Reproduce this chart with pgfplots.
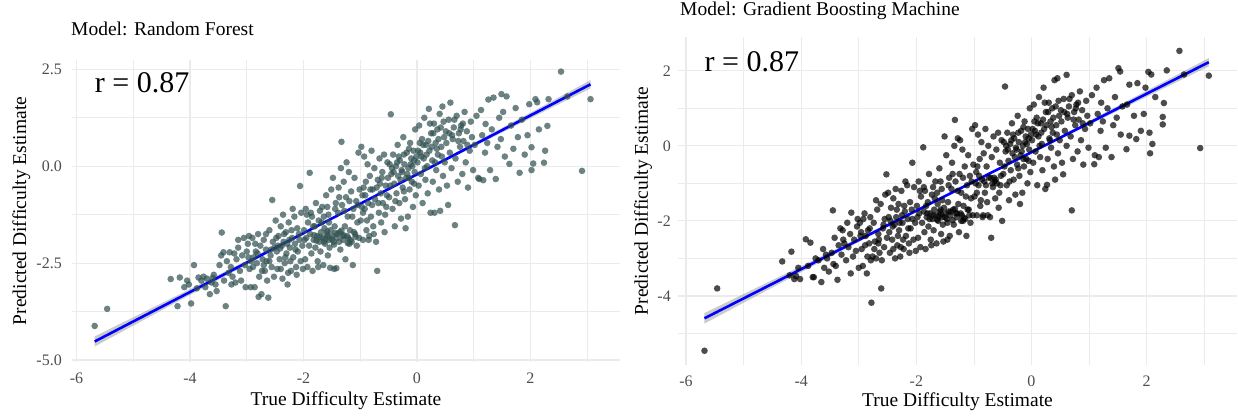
\documentclass[border=0pt]{standalone}
\usepackage{pgfplots}
\pgfplotsset{compat=1.18}
\usepackage{fontspec}
\setmainfont{Liberation Serif}

\definecolor{gridc}{HTML}{EBEBEB}
\definecolor{tickc}{HTML}{4D4D4D}
\definecolor{rfpt}{HTML}{2F4F4F}

\newcommand{\labfont}{\fontsize{19.5}{22}\selectfont}

\pgfplotsset{
  panel/.style={
    scale only axis,
    axis line style={draw=none},
    tick style={draw=none},
    major tick length=0pt,
    minor tick length=0pt,
    grid=both,
    major grid style={gridc, line width=1.2pt},
    minor grid style={gridc, line width=0.6pt},
    ticklabel style={font=\fontsize{16}{16}\selectfont, text=tickc, inner sep=0pt},
  },
  pts/.style={only marks, mark=*, mark size=3.3pt,
    mark options={fill=#1, fill opacity=0.7, draw opacity=0}},
  band/.style={draw=none, fill=black!45, fill opacity=0.45},
  fit/.style={draw=blue, line width=2.6pt},
}

\begin{document}
\begin{tikzpicture}
\path[use as bounding box] (0,0) rectangle (1238pt,416pt);

% ---- Random Forest ----
\begin{axis}[panel,
  at={(72pt,54pt)}, anchor=south west,
  width=548pt, height=302pt,
  xmin=-6.08, xmax=3.58, ymin=-5.05, ymax=2.74,
  xtick={-6,-4,-2,0,2}, xticklabels={-6,-4,-2,0,2},
  ytick={-5,-2.5,0,2.5}, yticklabels={-5.0,-2.5,0.0,2.5},
  minor xtick={-5,-3,-1,1,3}, minor ytick={-3.75,-1.25,1.25},
  xticklabel style={anchor=north, yshift=-11pt},
  yticklabel style={anchor=east, xshift=-10pt},
  xlabel={True Difficulty Estimate},
  ylabel={Predicted Difficulty Estimate},
  xlabel style={at={(axis description cs:0.5,-0.1424)}, anchor=base, font=\labfont},
  ylabel style={at={(axis description cs:-0.0839,0.5)}, anchor=base, font=\labfont},
  title={Model: Random Forest},
  title style={at={(axis description cs:0,1)}, anchor=base west, inner sep=0pt, xshift=-1pt, yshift=18pt, font=\labfont},
]
\addplot[pts=rfpt] coordinates {
(-5.68,-4.12) (-5.46,-3.68)
(-4.34,-2.91) (-4.18,-2.87) (-4.22,-3.61) (-4.10,-3.12) (-4.02,-3.05) (-3.98,-3.54) (-4.05,-2.95)
(-3.93,-2.55) (-3.85,-2.87) (-3.80,-2.95) (-3.73,-3.12) (-3.70,-2.90) (-3.65,-3.30) (-3.60,-2.88)
(-3.55,-3.05) (-3.53,-3.22) (-3.58,-2.80) (-3.88,-3.15) (-3.76,-2.85) (-3.62,-3.00)
(-3.44,-1.71) (-3.41,-2.22) (-3.37,-3.61) (-3.35,-2.45) (-3.30,-2.22) (-3.28,-2.60) (-3.25,-2.85)
(-3.22,-2.25) (-3.20,-3.00) (-3.18,-2.40) (-3.15,-2.10) (-3.12,-2.70) (-3.10,-2.95) (-3.08,-2.30)
(-3.05,-1.85) (-3.03,-2.55) (-3.40,-2.95) (-3.45,-2.30) (-3.32,-2.75) (-3.15,-1.90) (-3.00,-2.20)
(-3.02,-3.12) (-3.27,-3.05) (-3.48,-2.55)
(-2.98,-2.00) (-2.95,-2.65) (-2.93,-3.12) (-2.90,-1.85) (-2.88,-2.35) (-2.86,-3.12) (-2.84,-2.20)
(-2.82,-2.50) (-2.80,-1.75) (-2.78,-2.85) (-2.76,-2.05) (-2.74,-3.30) (-2.72,-2.40) (-2.70,-1.90)
(-2.68,-2.70) (-2.66,-2.15) (-2.64,-2.95) (-2.62,-3.39) (-2.60,-1.65) (-2.58,-2.30) (-2.56,-2.60)
(-2.55,-0.87) (-2.54,-1.95) (-2.52,-2.85) (-2.51,-2.10) (-2.79,-3.37) (-2.96,-1.80) (-2.70,-2.55)
(-2.85,-2.00) (-2.60,-2.45) (-2.92,-2.45) (-2.66,-1.75)
(-2.49,-1.40) (-2.47,-2.20) (-2.46,-2.65) (-2.44,-1.80) (-2.42,-2.40) (-2.40,-1.55) (-2.38,-2.05)
(-2.37,-2.90) (-2.35,-1.95) (-2.33,-2.50) (-2.31,-1.70) (-2.30,-2.25) (-2.28,-3.05) (-2.26,-1.45)
(-2.24,-2.10) (-2.22,-2.70) (-2.20,-1.85) (-2.18,-2.35) (-2.16,-1.30) (-2.15,-2.00) (-2.13,-2.60)
(-2.11,-1.60) (-2.10,-2.20) (-2.08,-1.75) (-2.06,-0.51) (-2.05,-2.45) (-2.04,-1.20) (-2.02,-2.05)
(-2.01,-2.65) (-2.45,-2.05) (-2.36,-1.25) (-2.27,-2.75) (-2.19,-1.10) (-2.12,-2.80) (-2.40,-2.65)
(-2.25,-1.90)
(-1.99,-1.65) (-1.97,-2.40) (-1.96,-1.10) (-1.95,-1.85) (-1.93,-2.60) (-1.92,-1.45) (-1.90,-2.05)
(-1.89,-0.17) (-1.88,-1.75) (-1.86,-2.25) (-1.85,-1.30) (-1.84,-2.70) (-1.82,-1.90) (-1.80,-1.55)
(-1.79,-2.10) (-1.78,-0.95) (-1.76,-1.80) (-1.75,-2.45) (-1.73,-1.40) (-1.72,-1.95) (-1.70,-2.20)
(-1.69,-1.70) (-1.67,-1.05) (-1.66,-1.85) (-1.65,-2.55) (-1.63,-1.60) (-1.62,-2.00) (-1.60,-0.75)
(-1.59,-1.75) (-1.57,-2.30) (-1.56,-1.25) (-1.55,-1.90) (-1.53,-2.62) (-1.52,-1.65) (-1.51,-0.60)
(-1.98,-1.90) (-1.87,-1.20) (-1.74,-2.60) (-1.68,-1.45) (-1.61,-1.88) (-1.58,-1.05) (-1.54,-2.10)
(-1.49,-1.80) (-1.48,-0.30) (-1.46,-2.65) (-1.45,-1.55) (-1.43,-0.95) (-1.42,-2.63) (-1.41,-1.85)
(-1.39,-1.20) (-1.38,-0.55) (-1.36,-1.70) (-1.35,-2.15) (-1.33,0.63) (-1.32,-1.00) (-1.30,-1.90)
(-1.29,-0.40) (-1.27,-1.55) (-1.26,-2.40) (-1.25,-0.80) (-1.23,-1.80) (-1.22,-1.30) (-1.20,-0.15)
(-1.19,-2.00) (-1.18,-1.65) (-1.16,-0.65) (-1.15,-1.95) (-1.13,-2.55) (-1.12,-1.10) (-1.10,-0.30)
(-1.09,-1.75) (-1.07,-0.90) (-1.06,-2.05) (-1.05,-1.45) (-1.03,0.35) (-1.02,-1.85) (-1.01,-0.60)
(-1.47,-1.95) (-1.40,-1.75) (-1.31,-1.80) (-1.21,-1.85) (-1.11,-1.70) (-1.34,-0.05) (-1.24,0.10)
(-0.99,-1.40) (-0.98,0.50) (-0.96,-0.75) (-0.95,-1.90) (-0.93,0.25) (-0.92,-1.10) (-0.90,-0.40)
(-0.89,-1.65) (-0.87,0.05) (-0.86,-0.95) (-0.84,-1.80) (-0.83,-0.25) (-0.81,-1.30) (-0.80,0.40)
(-0.78,-0.60) (-0.77,-1.55) (-0.75,-0.05) (-0.74,-0.85) (-0.72,-1.95) (-0.70,-2.70) (-0.69,-0.35)
(-0.67,-1.20) (-0.66,0.20) (-0.64,-0.70) (-0.63,-1.45) (-0.61,-0.15) (-0.60,-0.95) (-0.58,0.30)
(-0.57,-1.70) (-0.55,-0.50) (-0.54,-1.05) (-0.52,0.10) (-0.51,-0.30) (-0.94,-0.55) (-0.85,-1.90)
(-0.76,-1.75) (-0.65,-0.45) (-0.56,-1.25)
(-0.49,-0.80) (-0.48,0.05) (-0.46,1.34) (-0.45,-0.20) (-0.43,-1.10) (-0.42,0.30) (-0.40,-0.45)
(-0.39,-1.55) (-0.37,0.00) (-0.36,-0.70) (-0.34,0.55) (-0.33,-0.25) (-0.31,-0.95) (-0.30,0.15)
(-0.28,-1.35) (-0.27,-0.10) (-0.25,-0.55) (-0.24,0.75) (-0.22,0.05) (-0.21,-0.85) (-0.19,-0.30)
(-0.18,0.35) (-0.16,-1.30) (-0.15,-0.05) (-0.13,-0.60) (-0.12,0.60) (-0.10,0.20) (-0.09,-0.40)
(-0.07,-1.05) (-0.06,0.40) (-0.04,-0.15) (-0.03,0.95) (-0.02,-0.75) (-0.01,0.25) (-0.44,-0.05)
(-0.35,0.10) (-0.26,-0.15) (-0.17,-0.20) (-0.08,0.00) (-0.20,-1.60)
(0.01,0.10) (0.03,-0.50) (0.04,1.05) (0.06,0.35) (0.07,-0.20) (0.09,0.70) (0.10,-0.95)
(0.12,0.20) (0.13,1.25) (0.15,-0.35) (0.16,0.55) (0.18,0.00) (0.19,-0.70) (0.21,1.48)
(0.22,0.40) (0.24,-1.20) (0.25,0.85) (0.27,0.15) (0.28,-0.40) (0.30,1.10) (0.31,-1.20)
(0.33,0.60) (0.34,-0.10) (0.36,0.95) (0.37,0.30) (0.39,-0.60) (0.40,1.35) (0.41,-1.15)
(0.43,0.50) (0.45,1.54) (0.46,-0.25) (0.48,0.75) (0.49,0.10) (0.05,0.60) (0.20,0.65)
(0.35,0.45) (0.14,-0.05)
(0.51,0.90) (0.53,-0.50) (0.55,-1.00) (0.56,1.20) (0.58,0.35) (0.59,1.64) (0.61,-0.05)
(0.63,0.70) (0.65,1.00) (0.67,-1.52) (0.68,0.20) (0.70,1.30) (0.72,-0.40) (0.74,0.85)
(0.76,0.50) (0.78,1.05) (0.80,-0.20) (0.82,0.65) (0.84,1.40) (0.86,0.10) (0.88,0.90)
(0.90,-0.55) (0.93,0.40) (0.95,1.15) (0.97,0.75) (0.99,-0.10) (0.62,0.80) (0.77,0.95)
(1.02,0.55) (1.05,1.30) (1.08,-0.30) (1.10,-0.33) (1.13,1.45) (1.15,0.80) (1.17,-0.36)
(1.20,0.35) (1.21,1.09) (1.24,0.60) (1.26,1.72) (1.29,-0.10) (1.32,0.95) (1.35,1.77)
(1.39,-0.33) (1.42,0.50) (1.45,1.25) (1.48,0.70) (1.49,1.86)
(1.52,1.40) (1.55,0.25) (1.58,1.80) (1.63,0.06) (1.66,1.05) (1.70,0.45) (1.74,1.50)
(1.78,0.75) (1.81,-0.17) (1.85,1.20) (1.90,0.30) (1.95,0.80) (1.98,1.60)
(2.02,0.49) (2.02,-0.10) (2.05,0.07) (2.09,1.73) (2.12,1.65) (2.24,0.09) (2.26,0.40)
(2.30,1.04) (2.32,1.73) (2.15,0.95)
(2.54,2.44) (2.91,-0.12) (3.06,1.73) (2.65,1.80)
};
% denser core
\addplot[pts=rfpt] coordinates {
(-1.81,-1.78) (-1.77,-1.92) (-1.71,-1.82) (-1.64,-1.95) (-1.57,-1.80) (-1.50,-1.88) (-1.44,-1.72)
(-1.37,-1.95) (-1.29,-1.78) (-1.17,-1.90) (-1.08,-1.82) (-1.58,-1.68) (-1.46,-2.02) (-1.33,-1.66)
(-1.22,-1.98)
(-2.48,-1.85) (-2.41,-2.12) (-2.34,-1.75) (-2.29,-2.00) (-2.21,-1.65) (-2.14,-2.15) (-2.07,-1.90)
(-2.32,-2.35) (-2.23,-2.45)
(-2.97,-2.35) (-2.89,-2.60) (-2.81,-2.25) (-2.73,-2.70) (-2.65,-2.45) (-2.57,-2.15)
(-0.97,-1.05) (-0.91,-0.75) (-0.82,-0.60) (-0.79,-1.00) (-0.71,-0.55) (-0.62,-0.30) (-0.53,-0.75)
(-0.47,-0.50) (-0.41,-0.15) (-0.38,-0.90) (-0.29,-0.35) (-0.23,-0.65) (-0.14,-0.30) (-0.11,0.05)
(-0.05,-0.45) (-0.88,-1.40) (-0.68,-0.95)
(-0.32,0.25) (-0.23,0.30) (-0.14,0.45) (-0.05,0.15) (0.02,0.40) (0.08,0.25) (0.17,0.30)
(0.26,0.50) (0.32,0.10) (0.38,0.70) (0.44,0.25) (0.11,0.55)
(0.29,0.85) (0.42,1.00) (0.52,0.60) (0.57,0.85) (0.66,1.20) (0.73,0.65) (0.81,1.10)
(0.89,0.55) (0.47,1.15) (0.23,1.10)
(-1.44,-1.10) (-1.37,-0.80) (-1.28,-1.15) (-1.19,-0.90) (-1.14,-1.30) (-1.04,-1.00) (-0.95,-1.20)
(-1.94,-1.25) (-1.83,-1.55) (-1.71,-1.15) (-1.64,-1.30) (-1.55,-1.45)
};
\addplot[band] coordinates {
(-5.68,-4.39) (-4,-3.17) (-2.5,-2.065) (-1,-0.945) (0.5,0.21) (2,1.38) (3.06,2.22)
(3.06,2.006) (2,1.236) (0.5,0.13) (-1,-0.993) (-2.5,-2.15) (-4,-3.32) (-5.68,-4.65)
};
\addplot[fit] coordinates {(-5.68,-4.521) (3.06,2.113)};
\node[anchor=base west, font=\fontsize{30}{30}\selectfont, inner sep=0pt] at (axis cs:-5.68,1.91) {r = 0.87};
\end{axis}

% ---- Gradient Boosting Machine ----
\begin{axis}[panel,
  at={(678pt,51pt)}, anchor=south west,
  width=559pt, height=328pt,
  xmin=-6.14, xmax=3.57, ymin=-5.84, ymax=2.9,
  xtick={-6,-4,-2,0,2}, xticklabels={-6,-4,-2,0,2},
  ytick={-4,-2,0,2}, yticklabels={-4,-2,0,2},
  minor xtick={-5,-3,-1,1,3}, minor ytick={-5,-3,-1,1},
  xticklabel style={anchor=north, yshift=-11pt},
  yticklabel style={anchor=east, xshift=-7pt},
  xlabel={True Difficulty Estimate},
  ylabel={Predicted Difficulty Estimate},
  xlabel style={at={(axis description cs:0.5,-0.1271)}, anchor=base, font=\labfont},
  ylabel style={at={(axis description cs:-0.0537,0.5)}, anchor=base, font=\labfont},
  title={Model: Gradient Boosting Machine},
  title style={at={(axis description cs:0,1)}, anchor=base west, inner sep=0pt, xshift=2pt, yshift=15pt, font=\labfont},
]
\addplot[pts=black] coordinates {
(-5.68,-5.46) (-5.46,-3.80)
(-4.33,-3.08) (-4.17,-2.82) (-4.09,-3.47) (-4.02,-3.55) (-4.05,-3.25) (-4.20,-3.45) (-4.12,-3.55)
(-3.92,-2.49) (-3.84,-2.58) (-3.80,-3.50) (-3.78,-3.50) (-3.75,-3.00) (-3.70,-3.05) (-3.65,-3.63)
(-3.60,-3.25) (-3.57,-2.90) (-3.55,-3.00) (-3.52,-3.35) (-3.88,-3.20) (-3.62,-2.75)
(-3.45,-1.72) (-3.42,-2.45) (-3.40,-3.20) (-3.37,-3.57) (-3.35,-2.65) (-3.32,-2.20) (-3.30,-2.90)
(-3.28,-2.25) (-3.25,-2.60) (-3.22,-3.05) (-3.20,-2.05) (-3.18,-2.70) (-3.15,-2.35) (-3.13,-1.78)
(-3.10,-2.95) (-3.08,-2.50) (-3.05,-2.80) (-3.03,-2.15) (-3.00,-3.25) (-3.02,-1.95) (-3.27,-2.50)
(-3.47,-2.85) (-3.14,-3.40) (-3.44,-3.15)
(-2.98,-2.05) (-2.95,-2.75) (-2.93,-3.20) (-2.90,-1.80) (-2.88,-2.40) (-2.86,-3.40) (-2.84,-2.25)
(-2.82,-2.60) (-2.80,-1.90) (-2.78,-4.18) (-2.76,-2.95) (-2.74,-2.05) (-2.72,-2.55) (-2.70,-3.00)
(-2.68,-1.70) (-2.66,-2.35) (-2.64,-2.85) (-2.62,-1.55) (-2.61,-3.80) (-2.58,-2.20) (-2.56,-2.70)
(-2.55,-1.95) (-2.52,-0.76) (-2.51,-2.45) (-2.79,-3.05) (-2.96,-2.30) (-2.70,-1.45) (-2.85,-2.95)
(-2.60,-3.05) (-2.92,-1.95) (-2.66,-2.60) (-2.54,-1.30)
(-2.49,-1.25) (-2.47,-2.30) (-2.46,-2.85) (-2.44,-1.65) (-2.42,-2.50) (-2.40,-1.40) (-2.38,-2.10)
(-2.37,-3.00) (-2.35,-1.90) (-2.33,-2.65) (-2.31,-1.55) (-2.30,-2.25) (-2.28,-2.95) (-2.26,-1.20)
(-2.24,-2.05) (-2.22,-2.75) (-2.20,-1.75) (-2.18,-2.40) (-2.16,-1.05) (-2.15,-1.95) (-2.13,-2.60)
(-2.11,-1.50) (-2.10,-2.20) (-2.08,-1.70) (-2.07,-0.45) (-2.05,-2.50) (-2.04,-1.10) (-2.02,-2.05)
(-2.01,-2.80) (-2.45,-2.00) (-2.36,-1.15) (-2.27,-2.70) (-2.19,-0.95) (-2.12,-2.85) (-2.40,-2.75)
(-2.25,-1.85)
(-1.99,-1.60) (-1.97,-2.45) (-1.96,-0.95) (-1.95,-1.80) (-1.93,-2.70) (-1.92,-1.35) (-1.90,-2.05)
(-1.88,-0.04) (-1.87,-1.75) (-1.86,-2.30) (-1.85,-1.20) (-1.84,-2.75) (-1.82,-1.90) (-1.80,-1.50)
(-1.79,-2.15) (-1.78,-0.75) (-1.76,-1.80) (-1.75,-2.50) (-1.73,-1.30) (-1.72,-1.95) (-1.70,-2.25)
(-1.69,-1.70) (-1.67,-0.95) (-1.66,-1.85) (-1.65,-2.60) (-1.63,-1.55) (-1.62,-2.00) (-1.60,-0.60)
(-1.59,-1.75) (-1.57,-2.35) (-1.56,-1.15) (-1.55,-1.90) (-1.53,-2.55) (-1.51,0.25) (-1.52,-1.65)
(-1.98,-1.90) (-1.87,-1.10) (-1.74,-2.65) (-1.68,-1.40) (-1.61,-1.88) (-1.58,-0.95) (-1.54,-2.10)
(-1.49,-1.80) (-1.48,-0.25) (-1.46,-2.50) (-1.45,-1.50) (-1.43,-0.85) (-1.42,-2.40) (-1.41,-1.85)
(-1.39,-1.15) (-1.38,-0.45) (-1.36,-1.70) (-1.35,-2.10) (-1.33,0.69) (-1.32,-0.95) (-1.30,-1.90)
(-1.28,0.20) (-1.27,-1.55) (-1.26,-2.30) (-1.25,-0.75) (-1.23,-1.80) (-1.22,-1.25) (-1.20,-0.10)
(-1.19,-2.00) (-1.18,-1.60) (-1.16,-0.55) (-1.15,-1.95) (-1.13,-2.40) (-1.12,-1.05) (-1.10,-0.25)
(-1.09,-1.70) (-1.07,-0.80) (-1.06,-2.05) (-1.05,-1.40) (-1.03,0.45) (-1.02,-1.85) (-1.01,-0.50)
(-1.47,-1.95) (-1.40,-1.75) (-1.31,-1.80) (-1.21,-1.85) (-1.11,-1.70) (-1.34,0.00) (-1.24,0.15)
(-0.99,-1.35) (-0.98,0.55) (-0.96,-0.70) (-0.95,-1.85) (-0.93,0.30) (-0.92,-1.05) (-0.90,-0.35)
(-0.89,-1.60) (-0.87,0.10) (-0.86,-0.90) (-0.84,-1.85) (-0.83,-0.20) (-0.81,-1.25) (-0.80,0.45)
(-0.78,-0.55) (-0.77,-1.50) (-0.75,0.00) (-0.74,-0.85) (-0.72,-1.90) (-0.70,-2.45) (-0.69,-0.30)
(-0.67,-1.10) (-0.66,0.25) (-0.64,-0.95) (-0.63,-1.40) (-0.61,-0.10) (-0.60,-1.00) (-0.58,0.35)
(-0.57,-1.65) (-0.55,-0.45) (-0.54,-1.05) (-0.52,0.15) (-0.51,-2.00) (-0.94,-0.55) (-0.85,-1.90)
(-0.76,-1.85) (-0.65,-0.85) (-0.56,-1.25)
(-0.49,-0.75) (-0.48,0.10) (-0.46,1.58) (-0.45,-0.15) (-0.43,-1.05) (-0.42,0.35) (-0.40,-0.40)
(-0.39,-1.45) (-0.37,0.05) (-0.36,-0.65) (-0.34,0.60) (-0.33,-0.20) (-0.31,-0.90) (-0.30,0.20)
(-0.28,-1.30) (-0.27,-0.05) (-0.25,-0.50) (-0.24,0.80) (-0.22,0.10) (-0.21,-0.80) (-0.19,-0.25)
(-0.18,0.40) (-0.16,-1.25) (-0.15,0.00) (-0.13,-0.55) (-0.12,0.65) (-0.10,0.25) (-0.09,-0.35)
(-0.07,-1.00) (-0.06,0.45) (-0.04,-0.10) (-0.03,1.00) (-0.02,-0.70) (-0.01,0.30) (-0.44,0.00)
(-0.35,0.15) (-0.26,-0.10) (-0.17,-0.15) (-0.08,0.05) (-0.20,-1.55)
(0.01,0.15) (0.03,-0.45) (0.04,1.10) (0.06,0.40) (0.07,-0.15) (0.09,0.75) (0.10,-1.05)
(0.12,0.25) (0.13,1.30) (0.15,-0.30) (0.16,0.60) (0.18,0.05) (0.19,-0.65) (0.21,1.55)
(0.22,0.45) (0.24,-1.15) (0.25,0.90) (0.27,-1.04) (0.28,-0.35) (0.30,1.15) (0.31,0.20)
(0.33,0.65) (0.34,-0.05) (0.36,1.00) (0.37,0.35) (0.39,-0.55) (0.40,1.75) (0.41,-0.90)
(0.43,0.55) (0.45,1.80) (0.46,-0.20) (0.48,0.80) (0.49,0.15) (0.05,0.65) (0.20,0.70)
(0.35,0.50) (0.14,0.00)
(0.51,0.95) (0.53,-0.45) (0.55,-0.76) (0.56,1.25) (0.58,0.40) (0.61,1.89) (0.61,0.00)
(0.63,0.75) (0.65,1.05) (0.70,-1.72) (0.68,0.25) (0.70,1.35) (0.72,-0.35) (0.74,0.90)
(0.76,0.55) (0.78,1.10) (0.80,-0.15) (0.82,0.70) (0.84,1.45) (0.86,0.15) (0.88,0.95)
(0.90,-0.50) (0.93,0.45) (0.95,1.20) (0.97,0.80) (0.99,-0.05) (0.62,0.85) (0.77,1.00)
(1.02,0.60) (1.05,1.35) (1.09,-0.49) (1.10,-0.25) (1.13,1.55) (1.15,0.85) (1.17,-0.30)
(1.20,0.40) (1.21,1.15) (1.24,0.65) (1.26,1.75) (1.29,-0.05) (1.32,1.00) (1.35,1.80)
(1.39,-0.30) (1.42,0.55) (1.45,1.30) (1.48,0.75) (1.51,2.07)
(1.54,1.98) (1.55,0.30) (1.58,1.05) (1.65,-0.09) (1.66,1.10) (1.70,0.27) (1.70,1.63)
(1.78,0.80) (1.82,0.18) (1.84,1.67) (1.90,0.40) (1.95,0.85) (1.98,1.55)
(2.03,1.97) (2.06,-0.20) (2.10,0.05) (2.08,1.90) (2.28,0.77) (2.28,0.57) (2.30,1.14)
(2.35,2.01) (2.15,1.30) (2.05,0.35)
(2.57,2.53) (2.93,-0.06) (3.08,1.87) (2.65,1.90)
};
% denser core
\addplot[pts=black] coordinates {
(-1.81,-1.80) (-1.77,-1.95) (-1.71,-1.85) (-1.64,-1.97) (-1.57,-1.82) (-1.50,-1.90) (-1.44,-1.75)
(-1.37,-1.98) (-1.29,-1.80) (-1.17,-1.92) (-1.08,-1.85) (-1.58,-1.70) (-1.46,-2.05) (-1.33,-1.68)
(-1.22,-2.00)
(-2.48,-1.90) (-2.41,-2.15) (-2.34,-1.70) (-2.29,-2.05) (-2.21,-1.60) (-2.14,-2.20) (-2.07,-1.95)
(-2.32,-2.40) (-2.23,-2.50)
(-2.97,-2.40) (-2.89,-2.65) (-2.81,-2.20) (-2.73,-2.75) (-2.65,-2.50) (-2.57,-2.10)
(-0.97,-1.00) (-0.91,-0.80) (-0.82,-0.95) (-0.79,-1.05) (-0.71,-0.85) (-0.62,-0.90) (-0.53,-0.80)
(-0.47,-0.55) (-0.41,-0.10) (-0.38,-0.95) (-0.29,-0.30) (-0.23,-0.60) (-0.14,-0.35) (-0.11,0.10)
(-0.05,-0.40) (-0.88,-1.45) (-0.68,-1.00)
(-0.32,0.30) (-0.23,0.35) (-0.14,0.50) (-0.05,0.20) (0.02,0.45) (0.08,0.30) (0.17,0.35)
(0.26,0.55) (0.32,0.15) (0.38,0.75) (0.44,0.30) (0.11,0.60)
(0.29,0.90) (0.42,1.05) (0.52,0.65) (0.57,0.90) (0.66,1.25) (0.73,0.70) (0.81,1.15)
(0.89,0.60) (0.47,1.20) (0.23,1.15)
(-1.44,-1.05) (-1.37,-0.75) (-1.28,-1.20) (-1.19,-0.85) (-1.14,-1.35) (-1.04,-0.95) (-0.95,-1.25)
(-1.94,-1.20) (-1.83,-1.60) (-1.71,-1.10) (-1.64,-1.25) (-1.55,-1.45)
};
\addplot[band] coordinates {
(-5.68,-4.455) (-4,-3.206) (-2.5,-2.075) (-1,-0.922) (0.5,0.262) (2,1.468) (3.08,2.339)
(3.08,2.119) (2,1.308) (0.5,0.178) (-1,-0.976) (-2.5,-2.161) (-4,-3.366) (-5.68,-4.735)
};
\addplot[fit] coordinates {(-5.68,-4.595) (3.08,2.229)};
\node[anchor=base west, font=\fontsize{30}{30}\selectfont, inner sep=0pt] at (axis cs:-5.68,1.98) {r = 0.87};
\end{axis}
\end{tikzpicture}
\end{document}
